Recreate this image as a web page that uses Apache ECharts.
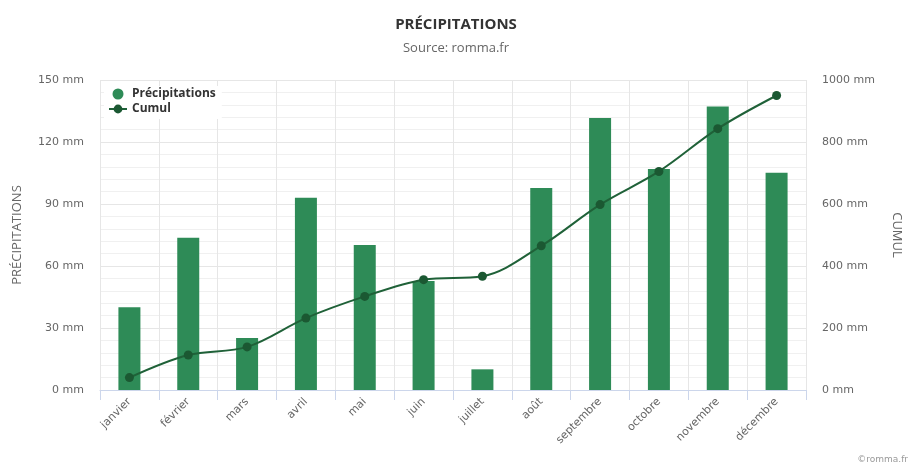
<!DOCTYPE html>
<html>
<head>
<meta charset="utf-8">
<script src="https://cdn.jsdelivr.net/npm/echarts@6/dist/echarts.min.js"></script>
<style>
  html, body { margin: 0; padding: 0; background: #fff; }
  #chart { width: 912px; height: 466px; }
</style>
</head>
<body>
<div id="chart"></div>
<script>
const months = ['janvier', 'février', 'mars', 'avril', 'mai', 'juin', 'juillet', 'août', 'septembre', 'octobre', 'novembre', 'décembre'];
const precipitations = [40, 73.7, 25.2, 93, 70.2, 52.7, 10, 97.7, 131.6, 106.9, 137.2, 105.1];
const cumul = [40, 113, 139, 232, 302, 356, 367, 465, 598, 705, 843, 950];

const leftTicks = { min: 0, max: 150, interval: 30 };
const rightTicks = { min: 0, max: 1000, interval: 200 };

const chart = echarts.init(document.getElementById('chart'));

const labelFont = { color: '#666', fontFamily: 'DejaVu Sans', fontSize: 11 };
const mm = (v) => v + ' mm';

chart.setOption({
  animation: false,
  title: {
    text: 'PRÉCIPITATIONS',
    subtext: 'Source: romma.fr',
    left: 'center',
    top: 12,
    itemGap: 10,
    textStyle: { fontFamily: 'Open Sans', fontSize: 15, fontWeight: 'bold', color: '#333' },
    subtextStyle: { fontFamily: 'Open Sans', fontSize: 13, color: '#666' }
  },
  legend: {
    orient: 'vertical',
    left: 104,
    top: 86,
    itemGap: 3,
    itemWidth: 18,
    itemHeight: 11,
    padding: [2, 6, 4, 4],
    backgroundColor: '#fff',
    textStyle: { fontFamily: 'Open Sans', fontSize: 12, fontWeight: 'bold', color: '#333' },
    data: [{ name: 'Précipitations', icon: 'circle' }, { name: 'Cumul' }]
  },
  grid: { left: 100, right: 106, top: 80, bottom: 76, containLabel: false },
  xAxis: {
    type: 'category',
    data: months,
    axisLine: { lineStyle: { color: '#ccd6eb' } },
    axisTick: { show: true, length: 10, lineStyle: { color: '#ccd6eb' } },
    axisLabel: { ...labelFont, rotate: 45, margin: 10 },
    splitLine: { show: true, lineStyle: { color: '#e6e6e6' } }
  },
  yAxis: [
    {
      type: 'value',
      ...leftTicks,
      name: 'PRÉCIPITATIONS',
      nameLocation: 'middle',
      nameGap: 76,
      nameTextStyle: { fontFamily: 'Open Sans', fontSize: 13, color: '#666' },
      axisLabel: { ...labelFont, margin: 16, formatter: mm },
      axisLine: { show: false },
      axisTick: { show: false },
      splitLine: { lineStyle: { color: '#e6e6e6' } },
      minorTick: { show: false, splitNumber: 5 },
      minorSplitLine: { show: true, lineStyle: { color: '#f0f0f0' } }
    },
    {
      type: 'value',
      ...rightTicks,
      name: 'CUMUL',
      nameLocation: 'middle',
      nameGap: 84,
      nameRotate: -90,
      nameTextStyle: { fontFamily: 'Open Sans', fontSize: 13, color: '#666' },
      axisLabel: { ...labelFont, margin: 16, formatter: mm },
      axisLine: { show: false },
      axisTick: { show: false },
      splitLine: { show: false }
    }
  ],
  series: [
    {
      name: 'Précipitations',
      type: 'bar',
      yAxisIndex: 0,
      data: precipitations,
      barWidth: 22,
      itemStyle: { color: '#2e8b57' }
    },
    {
      name: 'Cumul',
      type: 'line',
      yAxisIndex: 1,
      data: cumul,
      smooth: 0.35,
      symbol: 'circle',
      symbolSize: 9,
      lineStyle: { width: 2, color: '#1f6138' },
      itemStyle: { color: '#1b5832' }
    }
  ],
  graphic: [{
    type: 'text',
    right: 4,
    bottom: 2,
    style: { text: '©romma.fr', fontFamily: 'DejaVu Sans', fontSize: 9, fill: '#999' }
  }]
});
</script>
</body>
</html>
